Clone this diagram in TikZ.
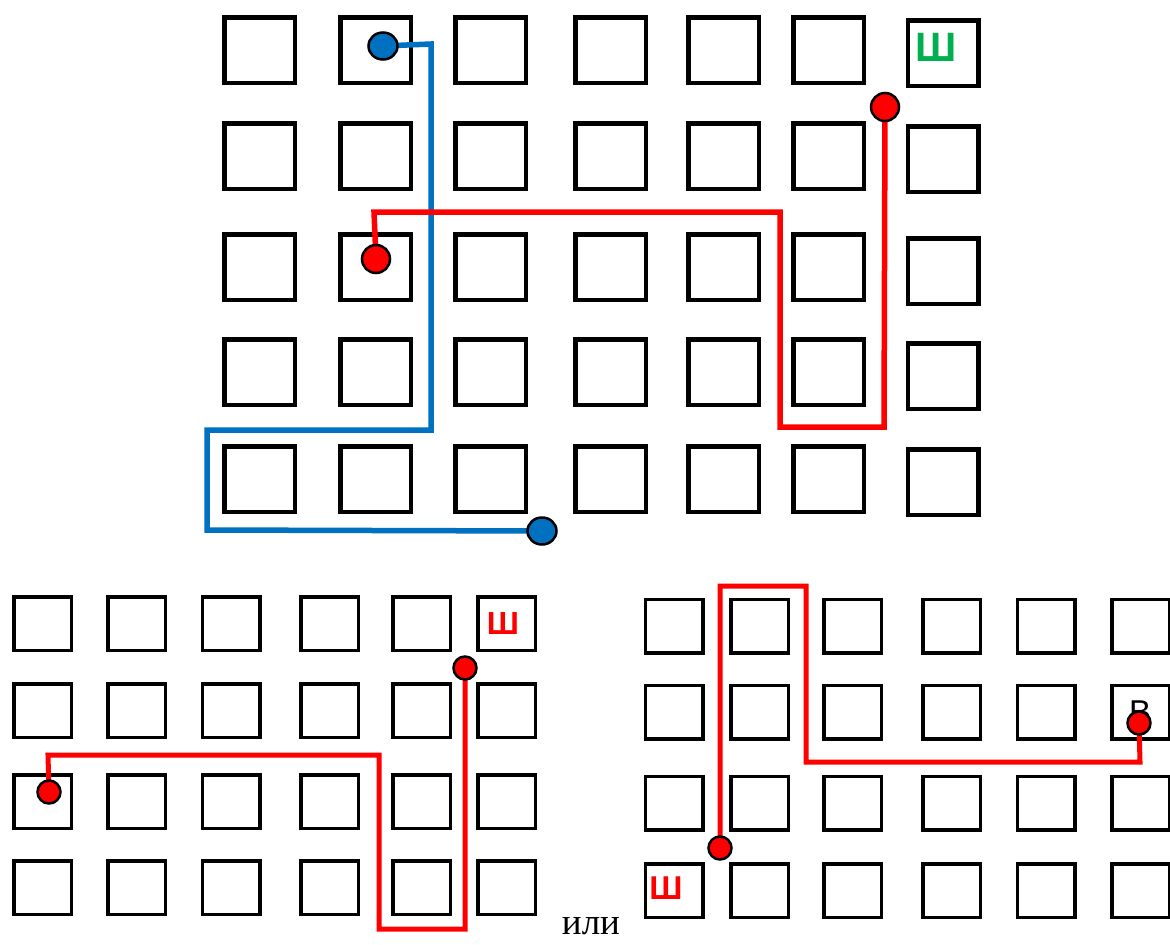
\documentclass[tikz,border=0pt]{standalone}
\usepackage{fontspec}
\newfontfamily\sansf{Liberation Sans}
\newfontfamily\seriff{Liberation Serif}
\definecolor{pblue}{RGB}{0,112,192}
\definecolor{pred}{RGB}{255,0,0}
\definecolor{pgreen}{RGB}{0,176,80}
\pgfdeclarelayer{bg}
\pgfsetlayers{bg,main}
\usetikzlibrary{shapes.geometric}
\tikzset{
  bigbox/.style={draw=black, line width=4.5pt, minimum width=70.5pt, minimum height=65.5pt, inner sep=0pt, fill=white},
  smallbox/.style={draw=black, line width=3.5pt, minimum width=57.5pt, minimum height=53.5pt, inner sep=0pt, fill=white},
  bluepath/.style={draw=pblue, line width=5.5pt},
  redpath/.style={draw=pred, line width=5.5pt},
  redpathsm/.style={draw=pred, line width=5pt},
  bdot/.style={ellipse, draw=black, line width=2.5pt, fill=pblue, minimum width=29pt, minimum height=27pt, inner sep=0pt},
  rdot/.style={circle, draw=black, line width=2.5pt, fill=pred, minimum size=28pt, inner sep=0pt},
  rdotsm/.style={circle, draw=black, line width=2.5pt, fill=pred, minimum size=23pt, inner sep=0pt},
  letter/.style={inner sep=0pt}
}
\begin{document}
\begin{tikzpicture}[x=1pt,y=-1pt]
\useasboundingbox (0,0) rectangle (1170,945);
\clip (0,0) rectangle (1170,945);
\begin{pgfonlayer}{bg}
% top grid
\foreach \x [count=\i] in {259.5,375.5,490.5,610.5,723.5,828.5}
  \foreach \y [count=\j] in {50,156,267,372,479}
    \node[bigbox] (t\i\j) at (\x,\y) {};
\foreach \y [count=\j] in {53,159,271,376,482}
  \node[bigbox] (t7\j) at (943,\y) {};
% bottom-left grid
\foreach \x [count=\i] in {42.5,136.5,231,329.5,421.5,506.5}
  \foreach \y [count=\j] in {623.5,710.5,801.5,887.5}
    \node[smallbox] (l\i\j) at (\x,\y) {};
% bottom-right grid
\foreach \x [count=\i] in {674,759.5,852.5,951.5,1046,1140.5}
  \foreach \y [count=\j] in {626,712,803,890.5}
    \node[smallbox] (r\i\j) at (\x,\y) {};
% letters
\node[letter, text=pgreen, font=\sansf\bfseries\fontsize{41}{41}\selectfont] (sh1) at (936,47) {Ш};
\node[letter, text=pred, font=\sansf\bfseries\fontsize{32}{32}\selectfont] (sh2) at (503,623) {Ш};
\node[letter, text=pred, font=\sansf\bfseries\fontsize{33}{33}\selectfont] (sh3) at (666,888) {Ш};
\node[letter, text=black, font=\sansf\fontsize{33}{33}\selectfont] (vv) at (1140,712) {В};
\end{pgfonlayer}
% dots
\node[bdot] (b1) at (383,46) {};
\node[bdot] (b2) at (542,531) {};
\node[rdot] (tr1) at (376,259) {};
\node[rdot] (tr2) at (885,107) {};
\node[rdotsm] (lr1) at (49,792) {};
\node[rdotsm] (lr2) at (465,668) {};
\node[rdotsm] (rr1) at (720,848) {};
\node[rdotsm] (rr2) at (1139,723) {};
\begin{pgfonlayer}{bg}
\draw[bluepath] (b1.center) -- (431,44) -- (431,430) -- (207,430) -- (207,530) -- (b2.center);
\draw[redpath] (tr1.center) -- (374,212) -- (780,212) -- (780,427) -- (884,427) -- (tr2.center);
\draw[redpathsm] (lr1.center) -- (48,755) -- (379,755) -- (379,929) -- (465,929) -- (lr2.center);
\draw[redpathsm] (rr1.center) -- (720,586) -- (806,586) -- (806,762) -- (1140,762) -- (rr2.center);
\end{pgfonlayer}
\node[inner sep=0pt, font=\seriff\fontsize{37}{37}\selectfont] (ili) at (591,926) {или};
\end{tikzpicture}
\end{document}
